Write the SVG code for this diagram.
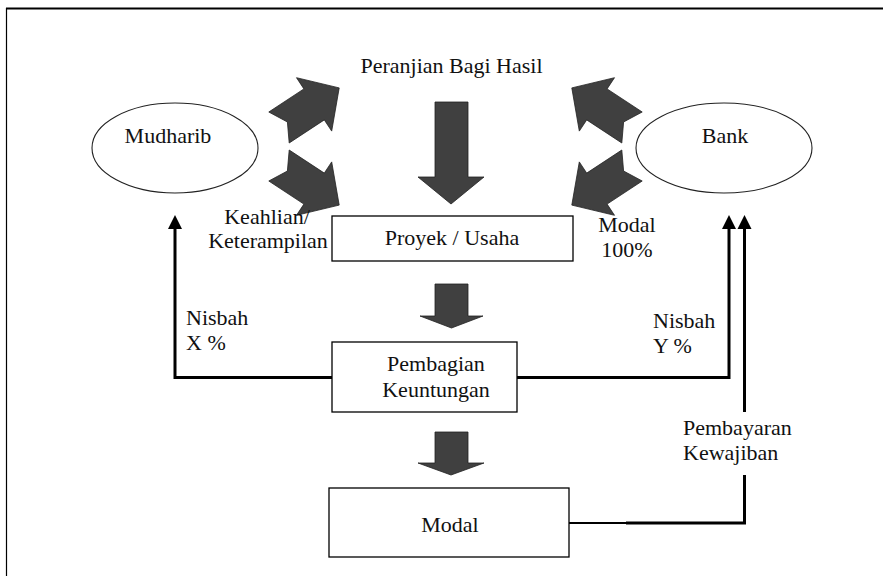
<svg xmlns="http://www.w3.org/2000/svg" width="883" height="576" viewBox="0 0 883 576">
  <defs>
    <style>
      text { font-family: "Liberation Serif", "Times New Roman", "DejaVu Serif", serif; font-size: 22px; fill: #111; }
      .mid { text-anchor: middle; }
      .box { fill: #fff; stroke: #000; stroke-width: 1.3; }
      .oval { fill: #fff; stroke: #222; stroke-width: 1.1; }
      .block { fill: #404040; stroke: #222; stroke-width: 0.8; stroke-linejoin: miter; }
      .wire { fill: none; stroke: #000; stroke-width: 3; }
      .head { fill: #000; }
    </style>
  </defs>

  <rect width="883" height="576" fill="#fff"/>

  <!-- frame: only top and left edges fall inside the page -->
  <g id="frame">
    <line x1="6" y1="8.5" x2="883" y2="8.5" stroke="#000" stroke-width="2"/>
    <line x1="6.5" y1="8" x2="6.5" y2="576" stroke="#000" stroke-width="1.2"/>
  </g>

  <g id="title">
    <text class="mid" x="451.5" y="73">Peranjian Bagi Hasil</text>
  </g>

  <g id="mudharib">
    <ellipse class="oval" cx="175" cy="148" rx="83" ry="45"/>
    <text class="mid" x="168" y="143">Mudharib</text>
  </g>

  <g id="bank">
    <ellipse class="oval" cx="724" cy="148" rx="88" ry="45"/>
    <text class="mid" x="725" y="143">Bank</text>
  </g>

  <g id="proyek">
    <rect class="box" x="332" y="216" width="241" height="45"/>
    <text class="mid" x="452" y="245">Proyek / Usaha</text>
  </g>

  <g id="pembagian">
    <rect class="box" x="332" y="342" width="185" height="70"/>
    <text class="mid" x="436" y="371">Pembagian</text>
    <text class="mid" x="436" y="397">Keuntungan</text>
  </g>

  <g id="modal">
    <rect class="box" x="329" y="488" width="240" height="69"/>
    <text class="mid" x="450" y="532">Modal</text>
  </g>

  <!-- notched block arrows around the agreement -->
  <g id="block-arrows">
    <polygon class="block" points="268.8,112 303.9,88.9 296.5,77.7 339.2,87.9 331.7,131.1 324.3,119.9 289.2,143 287.4,122"/>
    <polygon class="block" points="268.8,181 303.9,204.1 296.5,215.3 339.2,205.1 331.7,161.9 324.3,173.1 289.2,150 287.4,171"/>
    <polygon class="block" points="642.2,112 607.1,88.9 614.5,77.7 571.8,87.9 579.3,131.1 586.7,119.9 621.8,143 623.6,122"/>
    <polygon class="block" points="642.2,181 607.1,204.1 614.5,215.3 571.8,205.1 579.3,161.9 586.7,173.1 621.8,150 623.6,171"/>
    <!-- downward flow arrows -->
    <polygon class="block" points="435,102 468,102 468,177 484,177 451,204 418,177 435,177"/>
    <polygon class="block" points="435,284 468,284 468,316 483,316 451.5,328 420,316 435,316"/>
    <polygon class="block" points="435,432 468,432 468,463 484,463 451,475 418,463 435,463"/>
  </g>

  <g id="labels">
    <text class="mid" x="267" y="224">Keahlian/</text>
    <text class="mid" x="268" y="248">Keterampilan</text>
    <text class="mid" x="627" y="232">Modal</text>
    <text class="mid" x="627" y="257">100%</text>
    <text x="186" y="325">Nisbah</text>
    <text x="186" y="350">X %</text>
    <text x="653" y="328">Nisbah</text>
    <text x="653" y="353">Y %</text>
    <text x="683" y="435">Pembayaran</text>
    <text x="683" y="460">Kewajiban</text>
  </g>

  <!-- connectors -->
  <g id="connectors">
    <polyline class="wire" points="332,377.5 175,377.5 175,227"/>
    <polygon class="head" points="175,215 182,229 168,229"/>
    <polyline class="wire" points="517,377.5 729,377.5 729,227"/>
    <polygon class="head" points="729,215 736,229 722,229"/>
    <line class="wire" x1="744.5" y1="227" x2="744.5" y2="412"/>
    <polygon class="head" points="744.5,215 751.5,229 737.5,229"/>
    <line x1="569" y1="523" x2="628" y2="523" stroke="#000" stroke-width="2"/>
    <polyline class="wire" points="626,523 744.5,523 744.5,475"/>
  </g>
</svg>
